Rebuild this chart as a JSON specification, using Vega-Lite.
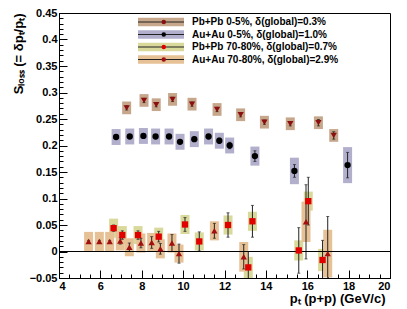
{
  "$schema": "https://vega.github.io/schema/vega-lite/v6.json",
  "width": 331,
  "height": 265,
  "autosize": "none",
  "padding": {"left": 59, "top": 13, "right": 17, "bottom": 31},
  "background": "white",
  "config": {
    "view": {"stroke": "black", "strokeWidth": 1},
    "font": "Liberation Sans",
    "axis": {
      "domainColor": "black",
      "tickColor": "black",
      "labelColor": "black",
      "labelFont": "Liberation Sans",
      "labelFontSize": 11,
      "labelFontWeight": "bold",
      "titleFont": "Liberation Sans",
      "titleFontSize": 13,
      "titleFontWeight": "bold",
      "titleColor": "black",
      "grid": false,
      "labelOverlap": false,
      "labelBound": false
    },
    "legend": {
      "labelFont": "Liberation Sans",
      "labelFontSize": 10,
      "labelFontWeight": "bold",
      "labelColor": "black",
      "padding": 0,
      "symbolOpacity": 1
    }
  },
  "datasets": {
    "pts": [
      {"series": "Pb+Pb 0-5%, δ(global)=0.3%", "pt": 7.27, "s": 0.271, "stat": 0.004, "sys": 0.012},
      {"series": "Pb+Pb 0-5%, δ(global)=0.3%", "pt": 8.11, "s": 0.285, "stat": 0.004, "sys": 0.012},
      {"series": "Pb+Pb 0-5%, δ(global)=0.3%", "pt": 8.70, "s": 0.277, "stat": 0.004, "sys": 0.012},
      {"series": "Pb+Pb 0-5%, δ(global)=0.3%", "pt": 9.49, "s": 0.287, "stat": 0.004, "sys": 0.012},
      {"series": "Pb+Pb 0-5%, δ(global)=0.3%", "pt": 10.43, "s": 0.278, "stat": 0.004, "sys": 0.012},
      {"series": "Pb+Pb 0-5%, δ(global)=0.3%", "pt": 11.64, "s": 0.268, "stat": 0.004, "sys": 0.012},
      {"series": "Pb+Pb 0-5%, δ(global)=0.3%", "pt": 12.78, "s": 0.258, "stat": 0.004, "sys": 0.012},
      {"series": "Pb+Pb 0-5%, δ(global)=0.3%", "pt": 13.93, "s": 0.244, "stat": 0.004, "sys": 0.012},
      {"series": "Pb+Pb 0-5%, δ(global)=0.3%", "pt": 15.18, "s": 0.241, "stat": 0.004, "sys": 0.012},
      {"series": "Pb+Pb 0-5%, δ(global)=0.3%", "pt": 16.54, "s": 0.243, "stat": 0.006, "sys": 0.012},
      {"series": "Pb+Pb 0-5%, δ(global)=0.3%", "pt": 17.28, "s": 0.219, "stat": 0.007, "sys": 0.012},
      {"series": "Au+Au 0-5%, δ(global)=1.0%", "pt": 6.76, "s": 0.216, "stat": 0.003, "sys": 0.015},
      {"series": "Au+Au 0-5%, δ(global)=1.0%", "pt": 7.42, "s": 0.217, "stat": 0.003, "sys": 0.015},
      {"series": "Au+Au 0-5%, δ(global)=1.0%", "pt": 8.08, "s": 0.218, "stat": 0.003, "sys": 0.015},
      {"series": "Au+Au 0-5%, δ(global)=1.0%", "pt": 8.67, "s": 0.217, "stat": 0.003, "sys": 0.015},
      {"series": "Au+Au 0-5%, δ(global)=1.0%", "pt": 9.32, "s": 0.217, "stat": 0.003, "sys": 0.015},
      {"series": "Au+Au 0-5%, δ(global)=1.0%", "pt": 9.85, "s": 0.207, "stat": 0.003, "sys": 0.015},
      {"series": "Au+Au 0-5%, δ(global)=1.0%", "pt": 10.54, "s": 0.212, "stat": 0.004, "sys": 0.015},
      {"series": "Au+Au 0-5%, δ(global)=1.0%", "pt": 11.23, "s": 0.217, "stat": 0.004, "sys": 0.015},
      {"series": "Au+Au 0-5%, δ(global)=1.0%", "pt": 11.75, "s": 0.209, "stat": 0.005, "sys": 0.015},
      {"series": "Au+Au 0-5%, δ(global)=1.0%", "pt": 12.25, "s": 0.200, "stat": 0.006, "sys": 0.015},
      {"series": "Au+Au 0-5%, δ(global)=1.0%", "pt": 13.47, "s": 0.180, "stat": 0.010, "sys": 0.018},
      {"series": "Au+Au 0-5%, δ(global)=1.0%", "pt": 15.38, "s": 0.152, "stat": 0.012, "sys": 0.025},
      {"series": "Au+Au 0-5%, δ(global)=1.0%", "pt": 17.95, "s": 0.163, "stat": 0.024, "sys": 0.034},
      {"series": "Pb+Pb 70-80%, δ(global)=0.7%", "pt": 6.64, "s": 0.044, "stat": 0.006, "sys": 0.018},
      {"series": "Pb+Pb 70-80%, δ(global)=0.7%", "pt": 7.06, "s": 0.031, "stat": 0.008, "sys": 0.017},
      {"series": "Pb+Pb 70-80%, δ(global)=0.7%", "pt": 7.82, "s": 0.031, "stat": 0.008, "sys": 0.017},
      {"series": "Pb+Pb 70-80%, δ(global)=0.7%", "pt": 8.82, "s": 0.028, "stat": 0.010, "sys": 0.017},
      {"series": "Pb+Pb 70-80%, δ(global)=0.7%", "pt": 10.09, "s": 0.051, "stat": 0.013, "sys": 0.018},
      {"series": "Pb+Pb 70-80%, δ(global)=0.7%", "pt": 10.78, "s": 0.019, "stat": 0.018, "sys": 0.017},
      {"series": "Pb+Pb 70-80%, δ(global)=0.7%", "pt": 12.17, "s": 0.050, "stat": 0.023, "sys": 0.018},
      {"series": "Pb+Pb 70-80%, δ(global)=0.7%", "pt": 13.35, "s": 0.057, "stat": 0.030, "sys": 0.018},
      {"series": "Pb+Pb 70-80%, δ(global)=0.7%", "pt": 13.15, "s": -0.030, "stat": 0.030, "sys": 0.020},
      {"series": "Pb+Pb 70-80%, δ(global)=0.7%", "pt": 15.59, "s": 0.002, "stat": 0.043, "sys": 0.019},
      {"series": "Pb+Pb 70-80%, δ(global)=0.7%", "pt": 16.05, "s": 0.095, "stat": 0.045, "sys": 0.018},
      {"series": "Pb+Pb 70-80%, δ(global)=0.7%", "pt": 16.74, "s": -0.016, "stat": 0.037, "sys": 0.021},
      {"series": "Au+Au 70-80%, δ(global)=2.9%", "pt": 5.43, "s": 0.019, "stat": 0.002, "sys": 0.018},
      {"series": "Au+Au 70-80%, δ(global)=2.9%", "pt": 5.95, "s": 0.019, "stat": 0.002, "sys": 0.018},
      {"series": "Au+Au 70-80%, δ(global)=2.9%", "pt": 6.45, "s": 0.019, "stat": 0.002, "sys": 0.018},
      {"series": "Au+Au 70-80%, δ(global)=2.9%", "pt": 6.96, "s": 0.020, "stat": 0.006, "sys": 0.018},
      {"series": "Au+Au 70-80%, δ(global)=2.9%", "pt": 7.40, "s": 0.008, "stat": 0.008, "sys": 0.017},
      {"series": "Au+Au 70-80%, δ(global)=2.9%", "pt": 7.96, "s": 0.016, "stat": 0.009, "sys": 0.018},
      {"series": "Au+Au 70-80%, δ(global)=2.9%", "pt": 8.48, "s": 0.017, "stat": 0.011, "sys": 0.018},
      {"series": "Au+Au 70-80%, δ(global)=2.9%", "pt": 8.90, "s": 0.005, "stat": 0.010, "sys": 0.018},
      {"series": "Au+Au 70-80%, δ(global)=2.9%", "pt": 9.46, "s": 0.016, "stat": 0.016, "sys": 0.018},
      {"series": "Au+Au 70-80%, δ(global)=2.9%", "pt": 9.80, "s": -0.004, "stat": 0.018, "sys": 0.017},
      {"series": "Au+Au 70-80%, δ(global)=2.9%", "pt": 11.51, "s": 0.039, "stat": 0.014, "sys": 0.018},
      {"series": "Au+Au 70-80%, δ(global)=2.9%", "pt": 12.93, "s": -0.010, "stat": 0.023, "sys": 0.028},
      {"series": "Au+Au 70-80%, δ(global)=2.9%", "pt": 15.94, "s": 0.056, "stat": 0.070, "sys": 0.038},
      {"series": "Au+Au 70-80%, δ(global)=2.9%", "pt": 16.99, "s": -0.004, "stat": 0.070, "sys": 0.045}
    ]
  },
  "data": {"name": "pts"},
  "layer": [
    {
      "mark": {"type": "errorbar", "ticks": false, "thickness": 9, "clip": true},
      "encoding": {
        "x": {"field": "pt", "type": "quantitative", "scale": {"domain": [4, 20], "nice": false, "zero": false},
          "axis": {"orient": "bottom", "values": [4,4.5,5,5.5,6,6.5,7,7.5,8,8.5,9,9.5,10,10.5,11,11.5,12,12.5,13,13.5,14,14.5,15,15.5,16,16.5,17,17.5,18,18.5,19,19.5,20], "tickSize": -4, "labels": false, "domain": false, "title": null}},
        "y": {"field": "s", "type": "quantitative", "scale": {"domain": [-0.05, 0.45], "nice": false, "zero": false},
          "axis": {"orient": "left", "values": [-0.05,-0.04,-0.03,-0.02,-0.01,0,0.01,0.02,0.03,0.04,0.05,0.06,0.07,0.08,0.09,0.1,0.11,0.12,0.13,0.14,0.15,0.16,0.17,0.18,0.19,0.2,0.21,0.22,0.23,0.24,0.25,0.26,0.27,0.28,0.29,0.3,0.31,0.32,0.33,0.34,0.35,0.36,0.37,0.38,0.39,0.4,0.41,0.42,0.43,0.44,0.45], "tickSize": -4, "labels": false, "domain": false, "title": null}},
        "yError": {"field": "sys"},
        "color": {"field": "series", "type": "nominal",
          "scale": {"domain": ["Pb+Pb 0-5%, δ(global)=0.3%", "Au+Au 0-5%, δ(global)=1.0%", "Pb+Pb 70-80%, δ(global)=0.7%", "Au+Au 70-80%, δ(global)=2.9%"],
                    "range": ["#c6a78b", "#b1afcc", "#d9d99c", "#e7c196"]},
          "legend": {"orient": "none", "legendX": 97, "legendY": 4, "title": null,
            "symbolType": "M-4.6,-0.85H4.6V0.85H-4.6Z", "symbolSize": 100, "symbolStrokeWidth": 0, "rowPadding": 2.5, "labelOffset": 26,
            "encode": {"symbols": {"update": {
              "fill": {"signal": "datum.value === 'Pb+Pb 0-5%, δ(global)=0.3%' ? '#c6a78b' : datum.value === 'Au+Au 0-5%, δ(global)=1.0%' ? '#b1afcc' : datum.value === 'Pb+Pb 70-80%, δ(global)=0.7%' ? '#d9d99c' : '#e7c196'"},
              "fillOpacity": {"value": 1},
              "stroke": {"value": "transparent"}}}}}}
      }
    },
    {
      "mark": {"type": "errorbar", "ticks": {"size": 3}, "thickness": 1, "clip": true},
      "encoding": {
        "x": {"field": "pt", "type": "quantitative", "axis": null},
        "y": {"field": "s", "type": "quantitative", "axis": null},
        "yError": {"field": "stat"},
        "color": {"field": "series", "type": "nominal",
          "scale": {"domain": ["Pb+Pb 0-5%, δ(global)=0.3%", "Au+Au 0-5%, δ(global)=1.0%", "Pb+Pb 70-80%, δ(global)=0.7%", "Au+Au 70-80%, δ(global)=2.9%"],
                    "range": ["#222222", "#222222", "#222222", "#222222"]},
          "legend": {"orient": "none", "legendX": 96.5, "legendY": 3.5, "title": null,
            "symbolType": "M-4.6,0H4.6", "symbolSize": 100, "symbolStrokeWidth": 1, "rowPadding": 1.5, "labelExpr": "''"}}
      }
    },
    {
      "mark": {"type": "rule", "color": "black", "strokeWidth": 1},
      "encoding": {"y": {"datum": 0, "type": "quantitative", "axis": null}}
    },
    {
      "mark": {"type": "point", "filled": true, "opacity": 1, "size": 40, "clip": true},
      "encoding": {
        "x": {"field": "pt", "type": "quantitative",
          "axis": {"orient": "bottom", "values": [4,6,8,10,12,14,16,18,20], "tickSize": -8, "labelPadding": 10, "title": "pₜ (p+p) (GeV/c)", "titleAnchor": "end", "titleAlign": "right", "titleX": 326, "titlePadding": 1}},
        "y": {"field": "s", "type": "quantitative",
          "axis": {"orient": "left", "values": [-0.05,0,0.05,0.1,0.15,0.2,0.25,0.3,0.35,0.4,0.45], "format": ".2~f", "tickSize": -8, "labelPadding": 10, "title": "Sₗₒₛₛ (= δpₜ/pₜ)", "titleAnchor": "end", "titlePadding": 4}},
        "color": {"field": "series", "type": "nominal",
          "scale": {"domain": ["Pb+Pb 0-5%, δ(global)=0.3%", "Au+Au 0-5%, δ(global)=1.0%", "Pb+Pb 70-80%, δ(global)=0.7%", "Au+Au 70-80%, δ(global)=2.9%"],
                    "range": ["#8a1010", "#000000", "#e00000", "#a01010"]},
          "legend": {"orient": "none", "legendX": 99.76, "legendY": 4, "title": null, "symbolSize": 20, "symbolStrokeWidth": 0, "rowPadding": 2.5, "labelExpr": "''"}},
        "shape": {"field": "series", "type": "nominal",
          "scale": {"domain": ["Pb+Pb 0-5%, δ(global)=0.3%", "Au+Au 0-5%, δ(global)=1.0%", "Pb+Pb 70-80%, δ(global)=0.7%", "Au+Au 70-80%, δ(global)=2.9%"],
                    "range": ["triangle-down", "circle", "square", "triangle-up"]},
          "legend": {"orient": "none", "legendX": 99.76, "legendY": 4, "title": null, "symbolSize": 20, "symbolStrokeWidth": 0, "rowPadding": 2.5, "labelExpr": "''"}}
      }
    }
  ],
  "resolve": {"scale": {"color": "independent"}, "axis": {"x": "independent", "y": "independent"}}
}
